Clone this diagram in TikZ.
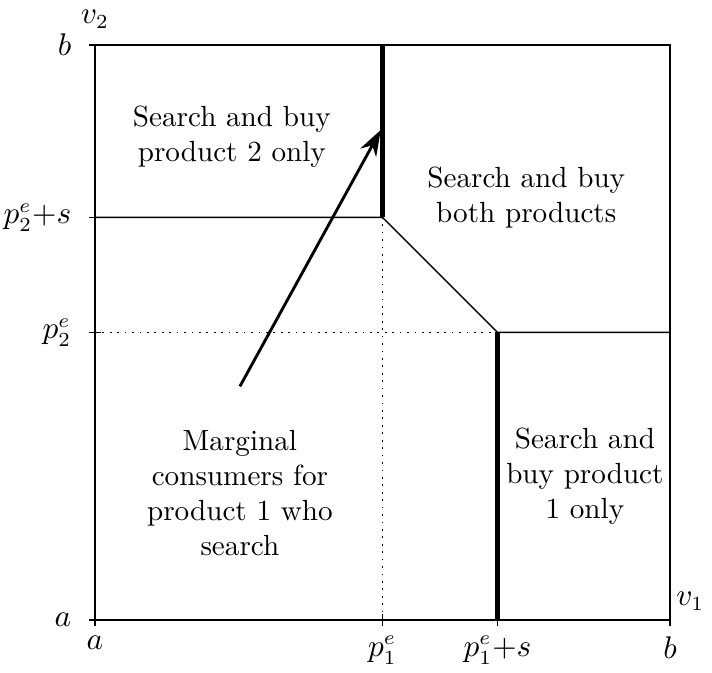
\documentclass[tikz,border=0pt]{standalone}
\usepackage{amsmath}
\usetikzlibrary{arrows.meta,positioning,calc}
\tikzset{
  region/.style={align=center,font=\fontsize{10.2}{12.25}\selectfont,inner sep=1pt},
  lbl/.style={font=\fontsize{10.5}{12}\selectfont,inner sep=1pt},
  bound/.style={line width=0.5pt},
  heavy/.style={line width=1.6pt},
  guide/.style={dotted,line width=0.6pt},
  pointer/.style={-{Stealth[length=3.2mm,width=2.2mm]},line width=1pt},
}
\begin{document}
\begin{tikzpicture}[x=0.707cm,y=0.707cm]
  \useasboundingbox (-1.652,-0.922) rectangle (10.73,10.78);
  % corners and breakpoints
  \coordinate (o) at (0,0);
  \coordinate (xb) at (10,0);
  \coordinate (yb) at (0,10);
  \coordinate (tr) at (10,10);
  \coordinate (p1) at (5,0);
  \coordinate (p1s) at (7,0);
  \coordinate (p2) at (0,5);
  \coordinate (p2s) at (0,7);
  \coordinate (k1) at (5,7);
  \coordinate (k2) at (7,5);
  \coordinate (top1) at (5,10);
  \coordinate (rgt2) at (10,5);
  % frame
  \draw[bound] (o) -- (xb) -- (tr) -- (yb) -- cycle;
  % ticks
  \foreach \c in {o,p1,p1s,xb} \draw[bound] ($(\c)+(0,-0.1)$) -- ($(\c)+(0,0.1)$);
  \foreach \c in {o,p2,p2s,yb} \draw[bound] ($(\c)+(-0.1,0)$) -- ($(\c)+(0.1,0)$);
  % guides
  \draw[guide] (p1) -- (k1);
  \draw[guide] (p2) -- (k2);
  % region boundaries
  \draw[bound] (p2s) -- (k1) -- (k2) -- (rgt2);
  \draw[heavy] (k1) -- (top1);
  \draw[heavy] (k2) -- (p1s);
  % axis labels
  \node[lbl,left=2.5mm of o] {$a$};
  \node[lbl,below=1.6mm of o] {$a$};
  \node[lbl,left=2.5mm of yb] {$b$};
  \node[lbl,above=1.6mm of yb] {$v_2$};
  \node[lbl,below=1.6mm of xb] {$b$};
  \node[lbl,anchor=south west] at ($(xb)+(0.05,0.1)$) {$v_1$};
  \node[lbl,below=1.6mm of p1] {$p_1^e$};
  \node[lbl,below=1.6mm of p1s] {$p_1^e{+}s$};
  \node[lbl,left=2.5mm of p2] {$p_2^e$};
  \node[lbl,left=2.5mm of p2s] {$p_2^e{+}s$};
  % regions
  \node[region] (r2) at (2.38,8.4) {Search and buy\\product 2 only};
  \node[region] (rb) at (7.5,7.34) {Search and buy\\both products};
  \node[region] (rm) at (2.52,2.2) {Marginal\\consumers for\\product 1 who\\search};
  \node[region] (r1) at (8.52,2.5) {Search and\\buy product\\1 only};
  % pointer
  \coordinate (tail) at (2.52,4.06);
  \coordinate (tip) at (4.97,8.52);
  \draw[pointer] (tail) -- (tip);
\end{tikzpicture}
\end{document}
